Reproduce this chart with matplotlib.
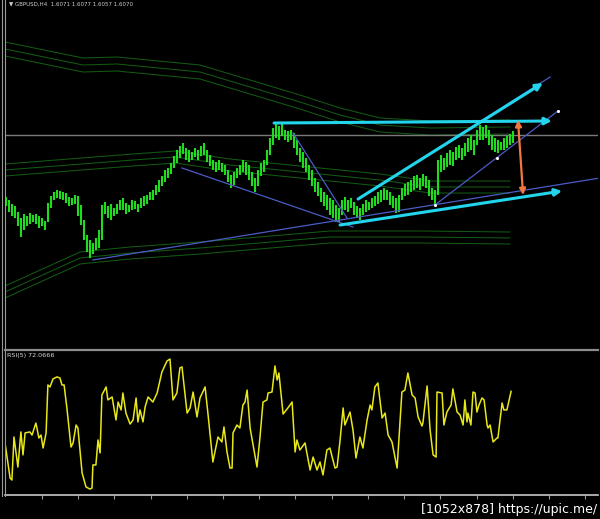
import numpy as np
import matplotlib
matplotlib.use("Agg")
import matplotlib.pyplot as plt
from matplotlib.lines import Line2D

# ---------------- data ----------------
# price bars (arbitrary price units, one bar per index)
bar_high = [103, 100, 96, 94, 88, 82, 86, 84, 87, 85,
            86, 84, 82, 79, 97, 104, 108, 110, 109, 108,
            107, 103, 102, 105, 104, 95, 80, 65, 60, 57,
            62, 70, 95, 98, 94, 96, 92, 96, 100, 102,
            97, 95, 100, 99, 96, 102, 104, 105, 108, 110,
            115, 120, 124, 130, 132, 137, 144, 150, 154, 157,
            152, 150, 148, 152, 150, 154, 157, 150, 145, 140,
            138, 140, 137, 135, 130, 125, 128, 132, 135, 140,
            138, 135, 128, 122, 130, 137, 140, 150, 162, 172,
            176, 174, 176, 170, 169, 170, 167, 160, 152, 148,
            142, 135, 130, 122, 118, 112, 108, 105, 102, 100,
            95, 92, 100, 103, 100, 102, 98, 94, 92, 96,
            100, 98, 102, 104, 108, 110, 112, 110, 108, 104,
            102, 105, 112, 116, 118, 120, 124, 125, 122, 126,
            124, 120, 112, 110, 140, 145, 142, 147, 150, 148,
            153, 155, 152, 157, 162, 165, 160, 170, 175, 173,
            175, 170, 165, 162, 160, 158, 162, 164, 166, 169]
bar_low = [94, 88, 84, 82, 74, 63, 70, 74, 76, 78,
           76, 72, 74, 70, 78, 92, 100, 102, 101, 100,
           97, 94, 95, 96, 84, 75, 60, 48, 42, 46,
           50, 52, 60, 86, 82, 80, 84, 86, 90, 90,
           86, 88, 90, 91, 88, 92, 94, 96, 100, 100,
           105, 108, 114, 118, 122, 126, 132, 137, 142, 146,
           140, 138, 140, 143, 140, 144, 145, 138, 134, 130,
           128, 130, 128, 125, 118, 112, 115, 122, 125, 128,
           125, 120, 114, 108, 114, 124, 128, 135, 145, 155,
           162, 160, 164, 160, 158, 160, 152, 145, 138, 132,
           128, 120, 114, 108, 104, 98, 94, 90, 85, 82,
           78, 78, 85, 90, 88, 92, 85, 82, 80, 85,
           88, 90, 92, 94, 96, 98, 100, 100, 95, 92,
           87, 88, 100, 104, 105, 108, 110, 112, 110, 114,
           112, 104, 100, 96, 105, 128, 130, 133, 135, 134,
           140, 142, 140, 144, 148, 150, 145, 155, 160, 160,
           162, 155, 150, 148, 147, 150, 150, 152, 155, 157]

# envelope bands (centre line anchors)
upper_x = [-0.5, 25.5, 36.8, 64.5, 97.8, 111.2, 124.5, 141.2, 167.8]
upper_c = [251, 235, 236, 228, 198, 185, 175, 172, 173]
middle_x = [-0.5, 42.2, 56.2, 74.5, 97.8, 124.5, 141.2, 167.8]
middle_c = [130, 140, 143, 135, 128, 120, 113, 113]
lower_x = [-0.5, 24.5, 41.2, 64.5, 107.8, 137.8, 167.8]
lower_c = [8, 42, 47, 52, 63, 63, 62]

price_level = 165

# RSI(5)
rsi_x = [-0.5, 1.2, 1.8, 2.5, 3.8, 4.8, 5.5, 6.2, 7.8, 8.5, 9.8, 10.8, 11.5, 12.2, 13.2,
         13.8, 14.5, 15.5, 16.8, 17.8, 18.5, 19.2, 20.2, 21.5, 22.2, 23.2, 23.8, 25.2,
         26.5, 27.8, 28.5, 28.8, 29.8, 30.5, 31.2, 31.8, 33.2, 33.8, 35.2, 36.5, 37.2,
         38.2, 38.8, 39.8, 41.2, 42.2, 43.2, 43.8, 44.5, 45.5, 46.2, 47.2, 48.8, 50.2,
         51.8, 53.5, 54.5, 55.5, 56.8, 57.8, 58.5, 60.2, 61.2, 62.2, 63.5, 64.5, 66.2,
         67.2, 68.8, 70.5, 71.8, 72.5, 73.5, 74.5, 75.2, 75.5, 76.8, 77.8, 78.8, 79.5,
         80.2, 81.2, 83.5, 84.5, 85.5, 86.8, 87.2, 88.5, 89.5, 90.2, 90.8, 92.2, 93.8,
         95.2, 96.2, 96.8, 97.8, 99.5, 101.2, 102.2, 103.5, 104.5, 105.5, 106.8, 107.8,
         109.5, 110.2, 111.2, 112.2, 112.8, 114.5, 115.5, 116.5, 117.8, 118.8, 120.2,
         121.2, 121.8, 122.8, 123.8, 125.2, 126.2, 127.2, 128.5, 130.2, 131.8, 132.8,
         133.8, 135.2, 136.2, 137.2, 138.5, 138.8, 140.2, 141.2, 142.2, 143.2, 143.5,
         145.2, 145.8, 146.8, 148.2, 148.8, 150.2, 151.2, 152.2, 152.8, 153.5, 153.8,
         154.8, 155.5, 156.2, 156.8, 157.5, 158.5, 159.2, 160.2, 160.5, 161.2, 162.2,
         163.5, 163.8, 165.2, 165.8, 166.8, 168.2]
rsi_v = [35.5, 10.6, 9.2, 39.7, 18.4, 43.3, 27.0, 42.6, 43.3, 41.1, 49.6, 39.0, 41.1, 31.9, 42.6,
         76.6, 75.2, 80.9, 82.3, 81.6, 76.6, 76.6, 58.9, 32.6, 35.5, 48.2, 46.1, 14.2,
         4.3, 2.8, 3.5, 19.9, 19.9, 37.6, 28.4, 69.5, 75.2, 66.0, 68.1, 51.8, 64.5,
         58.9, 70.9, 56.7, 48.9, 51.8, 67.4, 50.4, 58.9, 50.4, 61.0, 68.1, 64.5, 70.9,
         85.8, 93.6, 95.0, 66.0, 70.9, 88.7, 89.4, 56.7, 60.3, 71.6, 53.9, 67.4, 75.2,
         55.3, 22.0, 39.7, 36.2, 46.8, 29.1, 17.7, 17.7, 42.6, 48.2, 46.1, 62.4, 64.5,
         73.0, 46.1, 18.4, 39.7, 64.5, 66.0, 70.9, 71.6, 90.1, 80.1, 85.1, 56.0, 60.3,
         64.5, 29.1, 37.6, 30.5, 35.5, 16.3, 25.5, 16.3, 22.0, 12.8, 30.5, 31.9,
         17.7, 18.4, 37.6, 60.3, 48.2, 57.4, 44.7, 24.8, 39.7, 31.9, 51.8,
         62.4, 58.9, 75.2, 78.0, 53.2, 56.7, 41.1, 36.2, 17.7, 71.6, 73.0,
         85.1, 69.5, 67.4, 53.9, 47.5, 49.6, 75.9, 44.7, 27.0, 25.5, 71.6,
         70.9, 48.2, 57.4, 62.4, 73.8, 57.4, 55.3, 48.2, 66.0, 50.4, 56.7,
         48.2, 71.6, 70.9, 57.4, 62.4, 67.4, 66.0, 48.2, 46.1, 48.2, 36.2,
         39.0, 39.0, 63.8, 58.9, 58.9, 72.07]

# drawn objects (bar index, price)
cyan_top = [(89.2, 177), (181.8, 179)]
cyan_upper = [(117.2, 101), (178.8, 217)]
cyan_lower = [(111.2, 75), (185.2, 109)]
thin_upper_ext = [(117.2, 101), (181.2, 223)]
thin_long = [(28.8, 40), (197.8, 122)]
thin_fall1 = [(58.5, 132), (115.5, 73)]
thin_fall2 = [(95.5, 167), (113.5, 82)]
channel = [(142.8, 95), (163.5, 142), (183.8, 189)]
orange_arrow = [(170.5, 180), (172.2, 105)]

header_text = "\u25bc GBPUSD,H4  1.6071 1.6077 1.6057 1.6070"
rsi_label = "RSI(5) 72.0666"
watermark = "[1052x878] https://upic.me/"

# ---------------- figure ----------------
W, H = 600, 519
fig = plt.figure(figsize=(W / 100, H / 100), dpi=100, facecolor="black")

def fx(px):
    return px / W

def fy(py):
    return 1 - py / H

ax = fig.add_axes([fx(5), fy(349), fx(598) - fx(5), fy(0) - fy(349)])
axr = fig.add_axes([fx(5), fy(495), fx(598) - fx(5), fy(350) - fy(495)])
for a in (ax, axr):
    a.set_facecolor("black")
    for s in a.spines.values():
        s.set_visible(False)
    a.set_xlim(-0.5, 197.17)

ax.set_ylim(-49, 300)
ax.set_xticks([])
ax.set_yticks([])

idx = np.arange(len(bar_high))
bar_color = "#1fdc1f"
green_band = "#135a13"
thin_blue = "#4b5cc4"
cyan = "#22d4ec"

# bands
band_spacing = {"upper": 7, "middle": 6, "lower": 6}
for bx, bc, key in ((upper_x, upper_c, "upper"), (middle_x, middle_c, "middle"),
                    (lower_x, lower_c, "lower")):
    bc = np.array(bc, dtype=float)
    d = band_spacing[key]
    for off in (-d, 0, d):
        ax.plot(bx, bc + off, color=green_band, lw=0.75, zorder=1)

# horizontal price line
ax.axhline(price_level, color="#7a7a7a", lw=1.0, zorder=1)

# bars
ax.vlines(idx, bar_low, bar_high, color=bar_color, lw=1.5, zorder=3)

# thin trend lines
for ln in (thin_long, thin_fall1, thin_fall2, thin_upper_ext):
    xs, ys = zip(*ln)
    ax.plot(xs, ys, color=thin_blue, lw=0.9, zorder=4)
cx, cy = zip(*channel)
ax.plot([cx[0], cx[-1]], [cy[0], cy[-1]], color=thin_blue, lw=0.9, zorder=4)
ax.scatter(cx, cy, s=5, color="white", zorder=6, linewidths=0)

# cyan arrows
for ln in (cyan_top, cyan_upper, cyan_lower):
    ax.annotate("", xy=ln[1], xytext=ln[0],
                arrowprops=dict(arrowstyle="-|>", color=cyan, lw=2.2,
                                mutation_scale=10, shrinkA=0, shrinkB=0),
                zorder=5)

# orange double arrow
ax.annotate("", xy=orange_arrow[1], xytext=orange_arrow[0],
            arrowprops=dict(arrowstyle="<|-|>", color="#f07840", lw=1.6,
                            mutation_scale=9, shrinkA=0, shrinkB=0),
            zorder=6)

# RSI panel
axr.set_ylim(-1.42, 101.4)
axr.plot(rsi_x, rsi_v, color="#e8e81a", lw=1.1, zorder=3)
axr.set_yticks([])
axr.spines["bottom"].set_visible(True)
axr.spines["bottom"].set_color("#c8c8c8")
axr.spines["bottom"].set_linewidth(1.2)
axr.set_xticks(np.arange(11.83, 197, 12.07))
axr.tick_params(axis="x", direction="out", length=3, width=0.8, color="#9a9a9a",
                labelbottom=False)

# frame lines
for px in (2, 5):
    fig.add_artist(Line2D([fx(px), fx(px)], [fy(0), fy(496)], color="#9a9a9a", lw=0.8))
fig.add_artist(Line2D([fx(5), fx(598)], [fy(349.5), fy(349.5)], color="#8c8c8c", lw=1.6))

# texts
fig.text(fx(9), fy(4), header_text, fontsize=4.0, color="#d0d0d0", va="center", ha="left")
fig.text(fx(7), fy(356), rsi_label, fontsize=4.6, color="#d8d8d8", va="center", ha="left")
fig.text(fx(597), fy(510), watermark, fontsize=9, color="white", va="center", ha="right")

fig.savefig("out.png", dpi=100, facecolor="black")
